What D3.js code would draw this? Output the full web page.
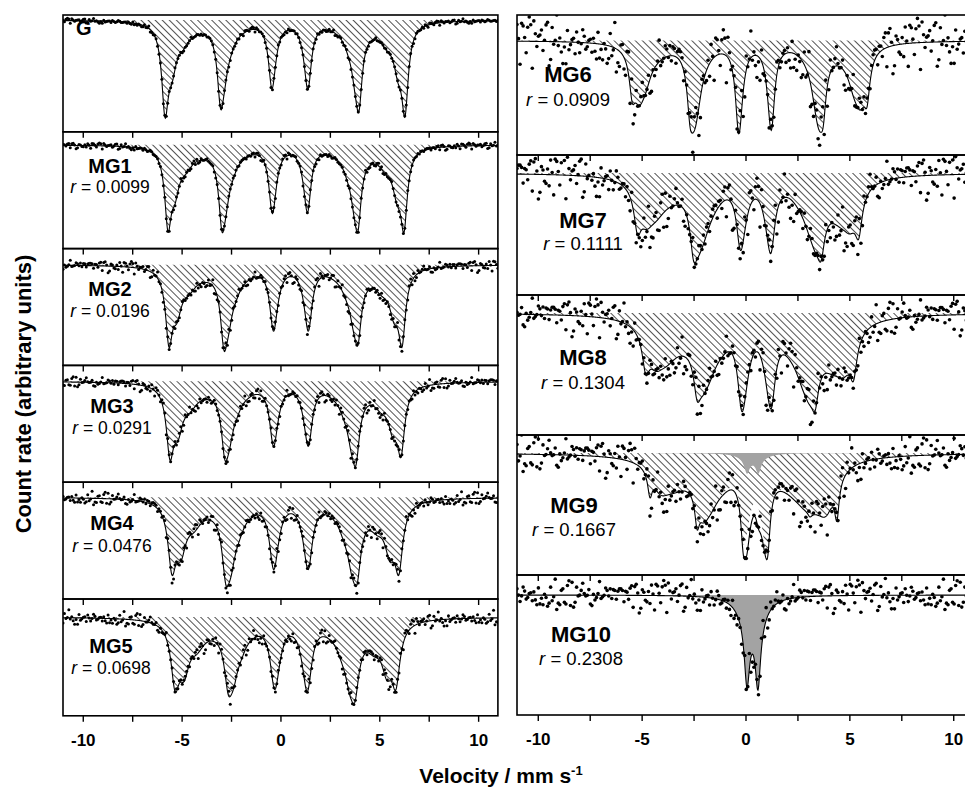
<!DOCTYPE html>
<html><head><meta charset="utf-8">
<script src="https://cdn.jsdelivr.net/npm/d3@7"></script>
<style>body{margin:0;background:#fff}svg{display:block}</style>
</head><body>
<svg id="c" width="965" height="787"></svg>
<script>
// ---------------- DATA ----------------
const samples = ["G","MG1","MG2","MG3","MG4","MG5","MG6","MG7","MG8","MG9","MG10"];
const ratios  = [null,"0.0099","0.0196","0.0291","0.0476","0.0698","0.0909","0.1111","0.1304","0.1667","0.2308"];
// y-axis range of each panel (relative transmission, %)
const yRanges = [[88.8,100.5],[89.6,101.3],[90.0,101.6],[89.9,101.6],[89.8,101.5],[90.1,101.8],
                 [85.7,103.2],[84.75,102.25],[84.75,102.25],[84.75,102.25],[85.0,102.5]];
// sextet line positions (mm/s) read from the dips
const sextetPos = [
  [-5.84,-3.03,-0.45,1.41,3.97,6.30],
  [-5.69,-2.96,-0.43,1.39,3.92,6.25],
  [-5.64,-2.86,-0.38,1.44,3.92,6.15],
  [-5.59,-2.81,-0.38,1.44,3.82,6.10],
  [-5.49,-2.76,-0.38,1.44,3.87,5.99],
  [-5.33,-2.64,-0.33,1.40,3.77,5.84],
  [-5.45,-2.67,-0.36,1.28,3.74,5.85],
  [-5.20,-2.50,-0.28,1.26,3.64,5.45],
  [-4.80,-2.33,-0.22,1.28,3.35,5.20],
  [-4.60,-2.33,-0.12,1.08,3.10,4.40],
  null];
// absorption depth at each dip (%)
const sextetDepth = [
  [9.8,8.9,6.8,6.9,9.2,9.7],
  [8.7,8.7,6.8,6.7,8.7,8.8],
  [8.2,8.5,6.5,6.5,8.0,8.2],
  [7.9,7.9,6.4,6.4,8.4,7.6],
  [7.8,8.8,7.1,7.1,8.8,7.8],
  [7.5,7.8,7.1,7.3,8.5,7.3],
  [7.8,10.8,11.2,10.8,10.8,8.3],
  [7.75,11.0,9.4,9.75,11.0,8.25],
  [7.75,11.0,11.9,11.6,12.25,8.5],
  [5.6,9.6,12.4,12.75,8.0,8.5],
  null];
// hyperfine splitting distribution (reduction of outer half-splitting, width, weight)
const distShift  = [[0,0.35,0.9,1.8],[0,0.35,0.9,1.8],[0,0.4,1.0,1.9],[0,0.4,1.0,1.9],[0,0.45,1.1,2.0],[0,0.45,1.1,2.0],
                    [0,0.3,0.6,1.2],[0,0.4,0.9,1.7],[0,0.45,1.0,1.9],[0,0.5,1.1,2.1],null];
const distWidth  = [[0.20,0.28,0.45,0.8],[0.20,0.28,0.45,0.8],[0.21,0.3,0.5,0.85],[0.22,0.3,0.5,0.85],[0.24,0.32,0.5,0.9],[0.25,0.33,0.5,0.9],
                    [0.17,0.3,0.4,0.8],[0.2,0.45,0.65,1.0],[0.2,0.5,0.7,1.05],[0.13,0.5,0.8,1.2],null];
const distWeight = [[1,0.45,0.2,0.06],[1,0.5,0.22,0.07],[1,0.55,0.25,0.08],[1,0.6,0.28,0.09],[1,0.7,0.32,0.1],[1,0.75,0.36,0.12],
                    [1,1.0,0.9,0.22],[1,0.85,0.7,0.35],[1,0.9,0.8,0.45],[1,0.9,0.85,0.5],null];
// paramagnetic doublet
const doubletPos   = [null,null,null,null,null,null,null,null,null,[0.07,0.62],[0.07,0.60]];
const doubletDepth = [null,null,null,null,null,null,null,null,null,[2.6,2.6],[11.6,11.9]];
const doubletWidth = [0.15,0.5];
const doubletWeight = [1,0.3];
// scatter of the measured counts (%)
const noiseLevel = [0.12,0.15,0.3,0.3,0.35,0.38,1.6,1.4,1.2,1.2,1.0];
const residuals = [0.3,-1.2,0.8,-0.4,1.5,-0.9,0.1,0.6,-1.7,0.2,1.1,-0.3,-0.8,0.9,-0.1,1.9,-1.4,0.5,-0.6,0.0,1.3,-1.0,0.4,-0.2,0.7,-2.1,1.0,-0.5,0.2,-1.1,1.6,-0.7,0.9,0.3,-1.3,0.6,-0.2,1.2,-0.9,0.1,-0.4,2.0,-1.5,0.8,-0.6,0.4,-1.8,1.1,0.0,-0.3,0.5,-1.0,1.4,-0.8,0.2,0.9,-1.2,0.3,-0.1,1.7,-0.7,0.6,-2.2,1.0,-0.4,0.1,0.8,-1.6,0.5,-0.2,1.3,-0.9,0.7,-0.5,0.0,1.5,-1.1,0.4,-0.3,0.9,-1.9,1.2,-0.6,0.2,0.6,-1.4,1.8,-0.8,0.3,-0.1,1.1,-1.3,0.5,-0.7,0.8,-0.2,1.6,-1.0,0.4,-0.4,0.1,-1.5,1.3,-0.6,0.7,2.1,-0.9,0.2,-1.2,0.6,-0.3,1.0,-1.8,0.9,-0.5,0.3,-0.1,1.4,-1.1,0.5,-0.8,0.0,1.2,-0.4,0.8,-1.7,0.6];
const velocityTicks = [-10,-7.5,-5,-2.5,0,2.5,5,7.5,10];
const velocityLabels = [-10,-5,0,5,10];

// ---------------- LAYOUT ----------------
const FONT = "'Liberation Sans', Arial, Helvetica, sans-serif";
const columns = [
  {x0:63, x1:497.9, top:15, h:116.8, ids:[0,1,2,3,4,5], lab:20, rlab:17.5},
  {x0:517, x1:974, top:15, h:140, ids:[6,7,8,9,10], lab:22, rlab:18.5}
];
const labelPos = {0:[76,35,null,"start"],1:[110,173,193],2:[110,296,317],3:[112,413,434],4:[112,530,552],5:[111,653,674],
                  6:[568,82,106],7:[583,228,250],8:[583,365,389],9:[574,513,536],10:[581,642,665]};

const svg = d3.select("#c");
const defs = svg.append("defs");
defs.append("pattern").attr("id","hatch").attr("patternUnits","userSpaceOnUse")
  .attr("width",5).attr("height",5).attr("patternTransform","rotate(-45)")
  .append("line").attr("x1",0.5).attr("y1",0).attr("x2",0.5).attr("y2",5)
  .attr("stroke","#333").attr("stroke-width",0.85);

const cFac = [1,0.577,0.153,0.153,0.577,1], sgn = [1,1,1,-1,-1,-1];
function lor(v,p,g){const d=(v-p)/g;return 1/(1+d*d);}

function fit(pos, dep, prof, extra){
  const A = pos.map((p,j)=>Math.max(0.01,(dep[j]-extra(p)))/prof(p,j));
  for(let it=0;it<80;it++){
    for(let j=0;j<pos.length;j++){
      const t = extra(pos[j]) + d3.sum(A,(a,k)=>a*prof(pos[j],k));
      A[j] = Math.max(0.001, A[j]*Math.pow(dep[j]/t,0.6));
    }
  }
  return A;
}
function model(i){
  const dpos = doubletPos[i], ddep = doubletDepth[i];
  const dProf = (v,j)=>{let s=0;for(let k=0;k<doubletWidth.length;k++) s+=doubletWeight[k]*lor(v,dpos[j],doubletWidth[k]);return s;};
  let dA=[];
  if(dpos){ dA = fit(dpos, ddep, dProf, ()=>0); }
  const doublet = v=> dpos? d3.sum(dA,(a,j)=>a*dProf(v,j)) : 0;
  const spos = sextetPos[i];
  let sextet = ()=>0;
  if(spos){
    const sh=distShift[i], wd=distWidth[i], wt=distWeight[i];
    const sProf=(v,j)=>{let s=0;for(let k=0;k<sh.length;k++){const p=spos[j]+sgn[j]*cFac[j]*sh[k];const g=wd[0]+cFac[j]*(wd[k]-wd[0]);s+=wt[k]*lor(v,p,g);}return s;};
    const sA = fit(spos, sextetDepth[i], sProf, doublet);
    sextet = v=> d3.sum(sA,(a,j)=>a*sProf(v,j));
  }
  return {sextet, doublet, total:v=>sextet(v)+doublet(v), hasS:!!spos, hasD:!!dpos};
}

const vGrid = d3.range(-11, 11.0001, 0.02);
const nPts = 300;
const vPts = d3.range(nPts).map(k=>-11 + 22*k/(nPts-1));

columns.forEach((col,ci)=>{
  const x = d3.scaleLinear().domain([-11,11]).range([col.x0,col.x1]);
  col.ids.forEach((id,pi)=>{
    const top = col.top + pi*col.h, bot = top + col.h;
    const y = d3.scaleLinear().domain(yRanges[id]).range([bot,top]);
    const m = model(id);
    const g = svg.append("g");
    const cid = "clip"+id;
    defs.append("clipPath").attr("id",cid).append("rect")
      .attr("x",col.x0).attr("y",top).attr("width",col.x1-col.x0).attr("height",col.h);
    const gc = g.append("g").attr("clip-path",`url(#${cid})`);
    if(m.hasS){
      gc.append("path").datum(vGrid)
        .attr("d", d3.area().x(v=>x(v)).y0(y(100)).y1(v=>y(100-m.sextet(v))))
        .attr("fill","url(#hatch)").attr("stroke","none");
    }
    if(m.hasD){
      gc.append("path").datum(vGrid)
        .attr("d", d3.area().x(v=>x(v)).y0(y(100)).y1(v=>y(100-m.doublet(v))))
        .attr("fill","#a3a3a3").attr("stroke","none");
    }
    gc.append("path").datum(vGrid)
      .attr("d", d3.line().x(v=>x(v)).y(v=>y(100-m.total(v))))
      .attr("fill","none").attr("stroke","#000").attr("stroke-width",1.1);
    gc.selectAll("circle").data(vPts).join("circle")
      .attr("cx",v=>x(v))
      .attr("cy",(v,k)=>y(100-m.total(v)+noiseLevel[id]*residuals[(k*5+id*17)%residuals.length]))
      .attr("r", ci===0?1.5:1.8).attr("fill","#000");
    g.append("rect").attr("x",col.x0).attr("y",top).attr("width",col.x1-col.x0).attr("height",col.h)
      .attr("fill","none").attr("stroke","#000").attr("stroke-width",1.6);
    if(pi>0){
      const ax = g.append("g").attr("transform",`translate(0,${top})`)
        .call(d3.axisBottom(x).tickValues(velocityTicks).tickSize(6).tickFormat(""));
      ax.select(".domain").remove();
      ax.selectAll("line").attr("stroke","#000").attr("stroke-width",1.4);
    }
    if(pi===col.ids.length-1){
      const ax = g.append("g").attr("transform",`translate(0,${bot})`)
        .call(d3.axisBottom(x).tickValues(velocityTicks).tickSize(6).tickPadding(12)
          .tickFormat(d=>velocityLabels.includes(d)?String(d):""));
      ax.select(".domain").remove();
      ax.selectAll("line").attr("stroke","#000").attr("stroke-width",1.4);
      ax.selectAll("text").attr("font-family",FONT).attr("font-size",17).attr("font-weight","bold").attr("fill","#000");
    }
    const lp = labelPos[id];
    svg.append("text").attr("x",lp[0]).attr("y",lp[1]).attr("text-anchor",lp[3]||"middle")
      .attr("font-family",FONT).attr("font-weight","bold").attr("font-size",col.lab).text(samples[id]);
    if(ratios[id]){
      const t = svg.append("text").attr("x",lp[0]).attr("y",lp[2]).attr("text-anchor","middle")
        .attr("font-family",FONT).attr("font-size",col.rlab);
      t.append("tspan").attr("font-style","italic").text("r");
      t.append("tspan").text(" = "+ratios[id]);
    }
  });
});

const xt = svg.append("text").attr("x",501).attr("y",783).attr("text-anchor","middle")
  .attr("font-family",FONT).attr("font-weight","bold").attr("font-size",21);
xt.append("tspan").text("Velocity / mm s");
xt.append("tspan").attr("font-size",13).attr("dy",-8).text("-1");
svg.append("text").attr("transform","translate(31,394) rotate(-90)").attr("text-anchor","middle")
  .attr("font-family",FONT).attr("font-weight","bold").attr("font-size",22)
  .text("Count rate (arbitrary units)");
</script>
</body></html>
